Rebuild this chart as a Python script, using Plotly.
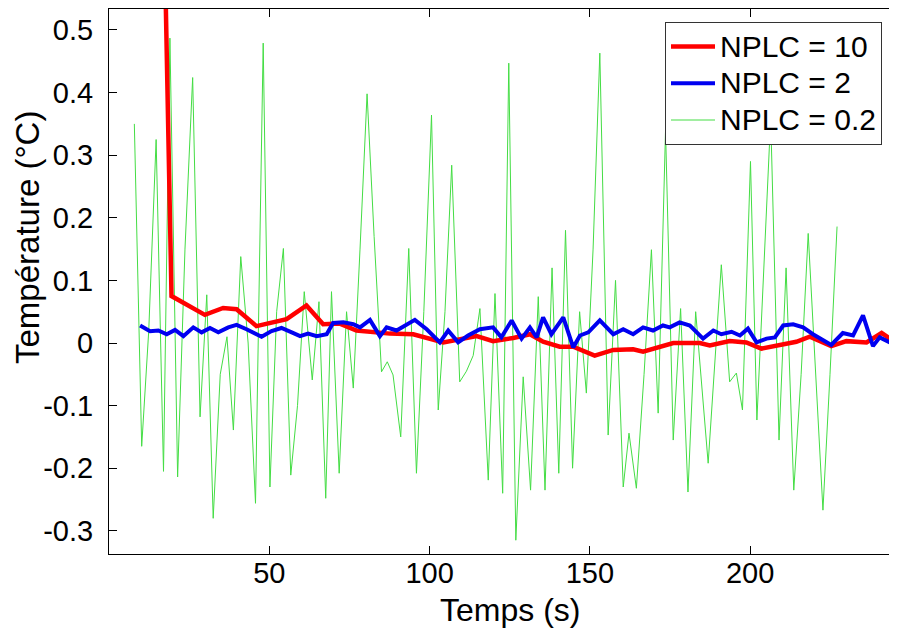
import plotly.graph_objects as go

# NPLC = 10 (red, thick)
t_red = [14.8, 19.5, 29.9, 35.6, 39.8, 46.0, 55.4, 61.6, 66.8, 72.0, 77.2, 87.6,
         94.9, 104.3, 114.7, 119.8, 126.1, 131.3, 135.4, 140.6, 144.8, 151.5, 157.3,
         163.5, 166.6, 172.8, 176.0, 184.3, 187.4, 193.6, 198.8, 203.5, 209.2, 214.4,
         218.6, 225.3, 230.0, 236.3, 241.0, 245.6]
v_red = [1.30, 0.075, 0.045, 0.056, 0.054, 0.027, 0.038, 0.060, 0.030, 0.031, 0.020, 0.015,
         0.014, 0.001, 0.011, 0.003, 0.008, 0.014, 0.002, -0.006, -0.006, -0.020, -0.011,
         -0.010, -0.014, -0.005, 0.000, 0.000, -0.004, 0.003, 0.001, -0.009, -0.003, 0.002,
         0.010, -0.005, 0.003, 0.001, 0.016, 0.000]

# NPLC = 2 (blue, thick)
t_blue = [9.7, 12.8, 15.4, 18.0, 20.6, 23.2, 26.3, 28.9, 31.5, 34.1, 37.2, 39.8, 42.9,
          47.6, 50.7, 53.8, 57.0, 59.6, 62.1, 64.8, 67.9, 69.9, 73.1, 76.2, 78.3, 81.4,
          84.5, 86.6, 89.7, 92.3, 95.4, 99.1, 103.2, 105.8, 108.9, 112.0, 115.7, 119.8,
          122.4, 125.6, 128.7, 131.3, 133.4, 135.4, 138.0, 141.7, 144.8, 146.9, 149.5,
          153.1, 157.3, 160.4, 163.5, 166.6, 169.7, 172.8, 174.9, 178.0, 181.2, 185.3,
          188.5, 191.0, 194.2, 196.8, 199.3, 202.0, 205.1, 207.7, 210.3, 213.4, 216.5,
          219.6, 222.7, 225.3, 228.9, 232.1, 235.2, 238.3, 240.4, 245.6]
v_blue = [0.028, 0.019, 0.020, 0.014, 0.021, 0.011, 0.025, 0.017, 0.024, 0.017, 0.025, 0.029, 0.022,
          0.010, 0.019, 0.024, 0.017, 0.011, 0.015, 0.011, 0.014, 0.032, 0.033, 0.030, 0.025, 0.037,
          0.011, 0.025, 0.020, 0.028, 0.037, 0.022, 0.001, 0.020, 0.001, 0.012, 0.022, 0.025,
          0.009, 0.036, 0.007, 0.025, 0.009, 0.041, 0.014, 0.041, -0.007, 0.012, 0.017,
          0.036, 0.014, 0.022, 0.014, 0.025, 0.020, 0.028, 0.025, 0.033, 0.028, 0.007,
          0.020, 0.014, 0.018, 0.012, 0.023, 0.001, 0.007, 0.009, 0.028, 0.030, 0.025,
          0.014, 0.004, -0.003, 0.016, 0.012, 0.044, -0.005, 0.009, -0.004]

# NPLC = 0.2 (green, thin)
t_green = [7.9, 10.2, 12.4, 14.7, 17.0, 19.0, 21.4, 23.7, 26.1, 28.4, 30.5, 32.5, 34.7,
           36.8, 38.8, 41.1, 43.4, 45.7, 48.1, 50.2, 52.3, 54.4, 56.7, 58.8, 60.9, 63.4,
           65.5, 67.6, 69.4, 71.8, 74.1, 76.2, 78.3, 80.5, 82.7, 85.0, 86.8, 88.6, 91.0,
           93.5, 95.9, 98.2, 100.6, 102.7, 104.8, 106.9, 109.4, 111.5, 113.6, 115.7, 118.3,
           120.4, 122.8, 124.7, 126.9, 129.2, 131.5, 133.9, 136.0, 138.2, 140.3, 142.4,
           144.6, 146.8, 148.9, 151.0, 153.1, 155.7, 158.0, 160.4, 162.2, 164.5, 166.9,
           169.2, 171.3, 173.6, 176.0, 178.3, 180.6, 183.0, 186.9, 189.0, 191.0, 193.6,
           195.7, 197.6, 200.1, 202.1, 206.4, 209.0, 211.2, 213.6, 215.9, 218.1, 220.4,
           222.7, 224.9, 227.1]
v_green = [0.350, -0.165, 0.020, 0.325, -0.205, 0.487, -0.214, 0.150, 0.424, -0.118, 0.077, -0.280, -0.050,
           0.010, -0.139, 0.138, 0.000, -0.256, 0.479, -0.230, 0.050, 0.151, -0.211, -0.100, 0.082, -0.059,
           0.066, -0.248, 0.082, -0.208, 0.050, -0.072, 0.150, 0.398, 0.170, -0.046, -0.030, -0.051, -0.150,
           0.151, -0.208, 0.050, 0.364, -0.107, 0.050, 0.284, -0.062, -0.045, -0.020, 0.055, -0.219,
           0.079, -0.240, 0.447, -0.315, -0.054, -0.235, 0.074, -0.235, 0.120, -0.208, 0.180,
           -0.200, 0.050, -0.080, 0.150, 0.463, -0.147, 0.100, -0.230, -0.144, -0.232, -0.050,
           0.149, -0.112, 0.340, -0.155, 0.055, -0.238, 0.050, -0.192, -0.030, 0.125, -0.062,
           -0.048, -0.107, 0.290, -0.123, 0.360, -0.155, 0.120, -0.235, -0.050, 0.175, -0.050,
           -0.267, -0.050, 0.186]

font = "Liberation Sans, Arial, sans-serif"

# the page body has an 8px margin, so the figure is drawn 8px smaller than the window
W, H = 889, 620
L, T, B = 101, 1, 74

fig = go.Figure()
# green first so the thick lines sit on top; legendrank keeps the legend order
fig.add_trace(go.Scatter(x=t_green, y=v_green, mode="lines", legendrank=3,
                         name='<span style="font-size:30px">NPLC = 0.2</span>',
                         line=dict(color="#44dd44", width=1)))
fig.add_trace(go.Scatter(x=t_red, y=v_red, mode="lines", legendrank=1,
                         name='<span style="font-size:30px">NPLC = 10</span>',
                         line=dict(color="#ff0000", width=4.5)))
fig.add_trace(go.Scatter(x=t_blue, y=v_blue, mode="lines", legendrank=2,
                         name='<span style="font-size:30px">NPLC = 2</span>',
                         line=dict(color="#0000f0", width=4)))

axis_style = dict(showline=True, linecolor="black", linewidth=1, mirror="ticks",
                  ticks="inside", ticklen=8, tickcolor="black", showgrid=False,
                  zeroline=False, automargin=False,
                  tickfont=dict(family=font, size=29, color="black"))

fig.update_xaxes(range=[0, 245.8], tickvals=[50, 100, 150, 200],
                 ticklabelstandoff=-7, **axis_style)
fig.update_yaxes(range=[-0.337, 0.5335], tickvals=[-0.3, -0.2, -0.1, 0, 0.1, 0.2, 0.3, 0.4, 0.5],
                 ticktext=["-0.3", "-0.2", "-0.1", "0", "0.1", "0.2", "0.3", "0.4", "0.5"],
                 ticklabelstandoff=9, **axis_style)

plot_w = W - L
plot_h = H - T - B

fig.update_layout(
    width=W, height=H,
    margin=dict(l=L, r=0, t=T, b=B, autoexpand=False),
    paper_bgcolor="white", plot_bgcolor="white",
    showlegend=True,
    legend=dict(x=(657 - L) / plot_w, y=1 - (14 - T) / plot_h, xanchor="left", yanchor="top",
                bgcolor="white", bordercolor="#333333", borderwidth=1,
                font=dict(family=font, size=26, color="black"),
                tracegroupgap=0, itemwidth=44),
    annotations=[
        dict(text="Temps (s)", xref="paper", yref="paper",
             x=(502 - L) / plot_w, y=0, yshift=-36, xanchor="center", yanchor="top",
             showarrow=False, font=dict(family=font, size=32, color="black")),
        dict(text="Température (°C)", xref="paper", yref="paper", textangle=-90,
             x=0, xshift=-81, y=(H - B - 230) / plot_h, xanchor="center", yanchor="middle",
             showarrow=False, font=dict(family=font, size=33, color="black")),
    ],
)

fig.write_html("out.html")
